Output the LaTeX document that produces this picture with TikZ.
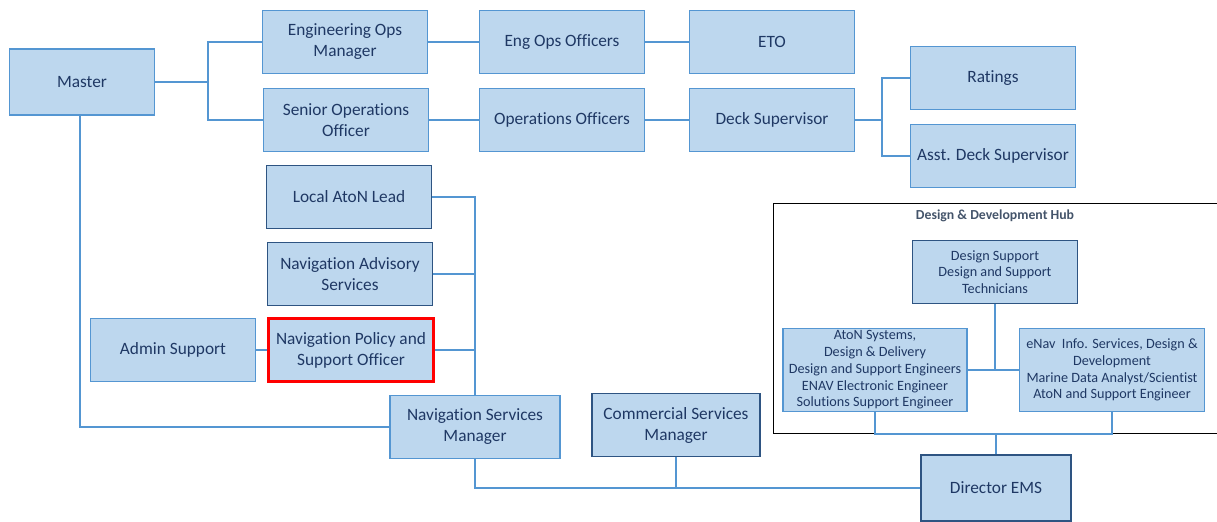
\documentclass[tikz,border=0pt]{standalone}
\usepackage{fontspec}
\setmainfont{Carlito}[Ligatures=NoCommon]
\usetikzlibrary{positioning}
\definecolor{boxfill}{RGB}{189,215,238}
\definecolor{boxline}{RGB}{84,150,210}
\definecolor{darkline}{RGB}{46,84,130}
\definecolor{txtblue}{RGB}{31,56,100}
\definecolor{hubgrey}{RGB}{68,84,106}
\tikzset{
    role/.style={draw=boxline, fill=boxfill, line width=1pt, text=txtblue,
        align=center, inner sep=0pt, minimum width=165*0.025cm,
        minimum height=63*0.025cm, font=\fontsize{12.3}{14.9}\selectfont},
    darkrole/.style={role, draw=darkline, line width=0.9pt},
    hubrole/.style={role, font=\fontsize{10.1}{11.9}\selectfont},
    link/.style={draw=boxline, line width=1.4pt}
}

\begin{document}
\begin{tikzpicture}[x=0.025cm, y=-0.025cm]
    \useasboundingbox (0,0) rectangle (1217,521);

    % top rows
    \node[role, minimum width=145*0.025cm, minimum height=66*0.025cm] (master) at (82,82) {Master};
    \node[role] (engmgr) at (345,42) {Engineering Ops\\Manager};
    \node[role] (seniorops) at (346,120) {Senior Operations\\Officer};
    \node[role] (engoff) at (562,42) {Eng Ops Officers};
    \node[role] (eto) at (772,42) {ETO};
    \node[role] (opsoff) at (562,120) {Operations Officers};
    \node[role] (deck) at (772,120) {Deck Supervisor};
    \node[role] (ratings) at (993,78) {Ratings};
    \node[role] (asstdeck) at (993,156) {Asst. Deck Supervisor};

    % navigation group
    \node[darkrole] (localaton) at (349,197) {Local AtoN Lead};
    \node[darkrole] (navadv) at (350,274) {Navigation Advisory\\Services};
    \node[role] (admin) at (173,350) {Admin Support};
    \node[role, draw=red, line width=1.5pt] (navpolicy) at (351,350) {Navigation Policy and\\Support Officer};
    \node[role, minimum width=170*0.025cm] (navmgr) at (475,427) {Navigation Services\\Manager};
    \node[darkrole, minimum width=168*0.025cm] (commercial) at (676,425) {Commercial Services\\Manager};
    \node[darkrole, line width=1.8pt, minimum width=150*0.025cm, minimum height=66*0.025cm] (director) at (996,488) {Director EMS};

    % design and development hub
    \draw[black, line width=0.6pt] (773,203) rectangle (1222,433);
    \node[text=hubgrey, font=\fontsize{9.8}{11}\selectfont\bfseries] (hubtitle) at (995,216) {Design \& Development Hub};
    \node[hubrole, draw=darkline] (designsup) at (995,272) {Design Support\\Design and Support\\Technicians};
    \node[hubrole, minimum width=184*0.025cm, minimum height=83*0.025cm] (atonsys) at (875,370)
        {AtoN Systems,\\Design \& Delivery\\Design and Support Engineers\\ENAV Electronic Engineer\\Solutions Support Engineer};
    \node[hubrole, minimum width=185*0.025cm, minimum height=83*0.025cm] (enav) at (1112,370)
        {eNav\ \ Info. Services, Design \&\\Development\\Marine Data Analyst/Scientist\\AtoN and Support Engineer};
    \coordinate (hubjoin) at (996,434);

    % connectors
    \coordinate (mfork) at (208,82);
    \draw[link] (master) -- (mfork);
    \draw[link] (mfork) |- (engmgr);
    \draw[link] (mfork) |- (seniorops);
    \draw[link] (engmgr) -- (engoff);
    \draw[link] (engoff) -- (eto);
    \draw[link] (seniorops) -- (opsoff);
    \draw[link] (opsoff) -- (deck);
    \coordinate (dfork) at (882,120);
    \draw[link] (deck) -- (dfork);
    \draw[link] (dfork) |- (ratings);
    \draw[link] (dfork) |- (asstdeck);

    \draw[link] (master.south -| 80,0) |- (navmgr.west);
    \draw[link] (localaton.east) -| (navmgr.north);
    \draw[link] (navadv.east) -| (navmgr.north);
    \draw[link] (navpolicy.east) -| (navmgr.north);
    \draw[link] (admin) -- (navpolicy);
    \draw[link] (navmgr.south) |- (director.west);
    \draw[link] (commercial.south) |- (director.west);

    \draw[link] (atonsys) -- (enav);
    \draw[link] (designsup.south) -- (designsup.south |- atonsys.east);
    \draw[link] (atonsys.south) |- (hubjoin) -| (enav.south);
    \draw[link] (hubjoin) -- (director.north);

\end{tikzpicture}
\end{document}
